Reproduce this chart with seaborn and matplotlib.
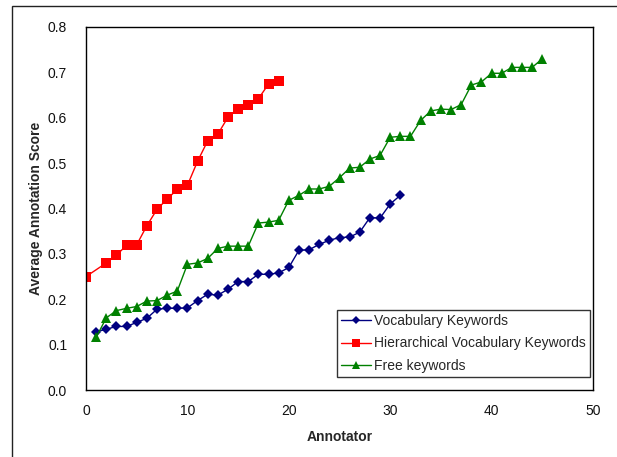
import matplotlib
matplotlib.use("Agg")
import matplotlib.pyplot as plt
from matplotlib.patches import Rectangle
import seaborn as sns
import pandas as pd

vocab_x = list(range(1, 32))
vocab_y = [0.128, 0.134, 0.140, 0.140, 0.149, 0.158, 0.178, 0.180, 0.180, 0.181,
           0.197, 0.211, 0.209, 0.222, 0.239, 0.239, 0.255, 0.255, 0.258, 0.270,
           0.308, 0.309, 0.321, 0.330, 0.336, 0.337, 0.348, 0.380, 0.379, 0.410,
           0.429]

hier_x = [0, 2, 3, 4, 5, 6, 7, 8, 9, 10, 11, 12, 13, 14, 15, 16, 17, 18, 19]
hier_y = [0.250, 0.280, 0.297, 0.319, 0.320, 0.362, 0.398, 0.421, 0.442, 0.451,
          0.504, 0.549, 0.564, 0.601, 0.620, 0.629, 0.642, 0.674, 0.681]

free_x = list(range(1, 46))
free_y = [0.116, 0.159, 0.175, 0.180, 0.184, 0.196, 0.197, 0.209, 0.218, 0.277,
          0.280, 0.290, 0.312, 0.317, 0.317, 0.317, 0.368, 0.370, 0.374, 0.418,
          0.429, 0.443, 0.443, 0.449, 0.468, 0.489, 0.491, 0.509, 0.517, 0.557,
          0.559, 0.559, 0.594, 0.615, 0.619, 0.618, 0.629, 0.672, 0.679, 0.698,
          0.698, 0.711, 0.711, 0.711, 0.730]

series_names = ["Vocabulary Keywords", "Hierarchical Vocabulary Keywords", "Free keywords"]
x_ticks = [0, 10, 20, 30, 40, 50]
y_ticks = [0.0, 0.1, 0.2, 0.3, 0.4, 0.5, 0.6, 0.7, 0.8]

df = pd.concat([
    pd.DataFrame({"Annotator": vocab_x, "Score": vocab_y, "Series": series_names[0]}),
    pd.DataFrame({"Annotator": hier_x, "Score": hier_y, "Series": series_names[1]}),
    pd.DataFrame({"Annotator": free_x, "Score": free_y, "Series": series_names[2]}),
], ignore_index=True)

sns.set_style("white")
plt.rcParams["font.family"] = ["Liberation Sans", "DejaVu Sans"]

fig = plt.figure(figsize=(6.17, 4.57), dpi=100)
ax = fig.add_axes([86/617, 1-390/457, (593-86)/617, (390-27)/457])

# outer frame (chart area border)
fig.patches.append(Rectangle((12/617, -0.2), 1.3, 1.2 - 5.5/457,
                             transform=fig.transFigure, fill=False,
                             edgecolor="#222222", linewidth=1.0, zorder=0))

palette = {series_names[0]: "#000080", series_names[1]: "#FF0000", series_names[2]: "#008000"}
markers = {series_names[0]: "D", series_names[1]: "s", series_names[2]: "^"}
sizes_ms = {series_names[0]: 5, series_names[1]: 6.5, series_names[2]: 7}

sns.lineplot(data=df, x="Annotator", y="Score", hue="Series", style="Series",
             hue_order=series_names, style_order=series_names,
             palette=palette, markers=markers, dashes=False, linewidth=1.0,
             markersize=6, markeredgewidth=0, ax=ax, sort=False)

for line, name in zip(ax.lines, series_names):
    line.set_markersize(sizes_ms[name])

ax.set_xlim(0, 50)
ax.set_ylim(0, 0.8)
ax.set_xticks(x_ticks)
ax.set_yticks(y_ticks)
ax.set_yticklabels([f"{v:.1f}" for v in y_ticks])
ax.tick_params(axis="both", direction="out", length=4, width=0.8, color="#444444",
               labelsize=10, labelcolor="#111111")
ax.tick_params(axis="y", pad=9.5)
ax.tick_params(axis="x", pad=6)
for s in ax.spines.values():
    s.set_color("black")
    s.set_linewidth(1.0)

ax.set_xlabel("Annotator", fontsize=10, fontweight="bold", labelpad=9)
ax.set_ylabel("Average Annotation Score", fontsize=10, fontweight="bold", labelpad=3.5)

leg = ax.legend(loc="lower right", bbox_to_anchor=(0.994, 0.036), borderaxespad=0,
                fontsize=10, frameon=True, fancybox=False, edgecolor="black",
                handlelength=2.1, handletextpad=0.25, labelspacing=0.6,
                borderpad=0.3, title=None)
leg.get_frame().set_linewidth(1.0)
for h, name in zip(leg.legend_handles, series_names):
    h.set_markersize(sizes_ms[name] * 0.9)

fig.savefig("out.png", dpi=100)
